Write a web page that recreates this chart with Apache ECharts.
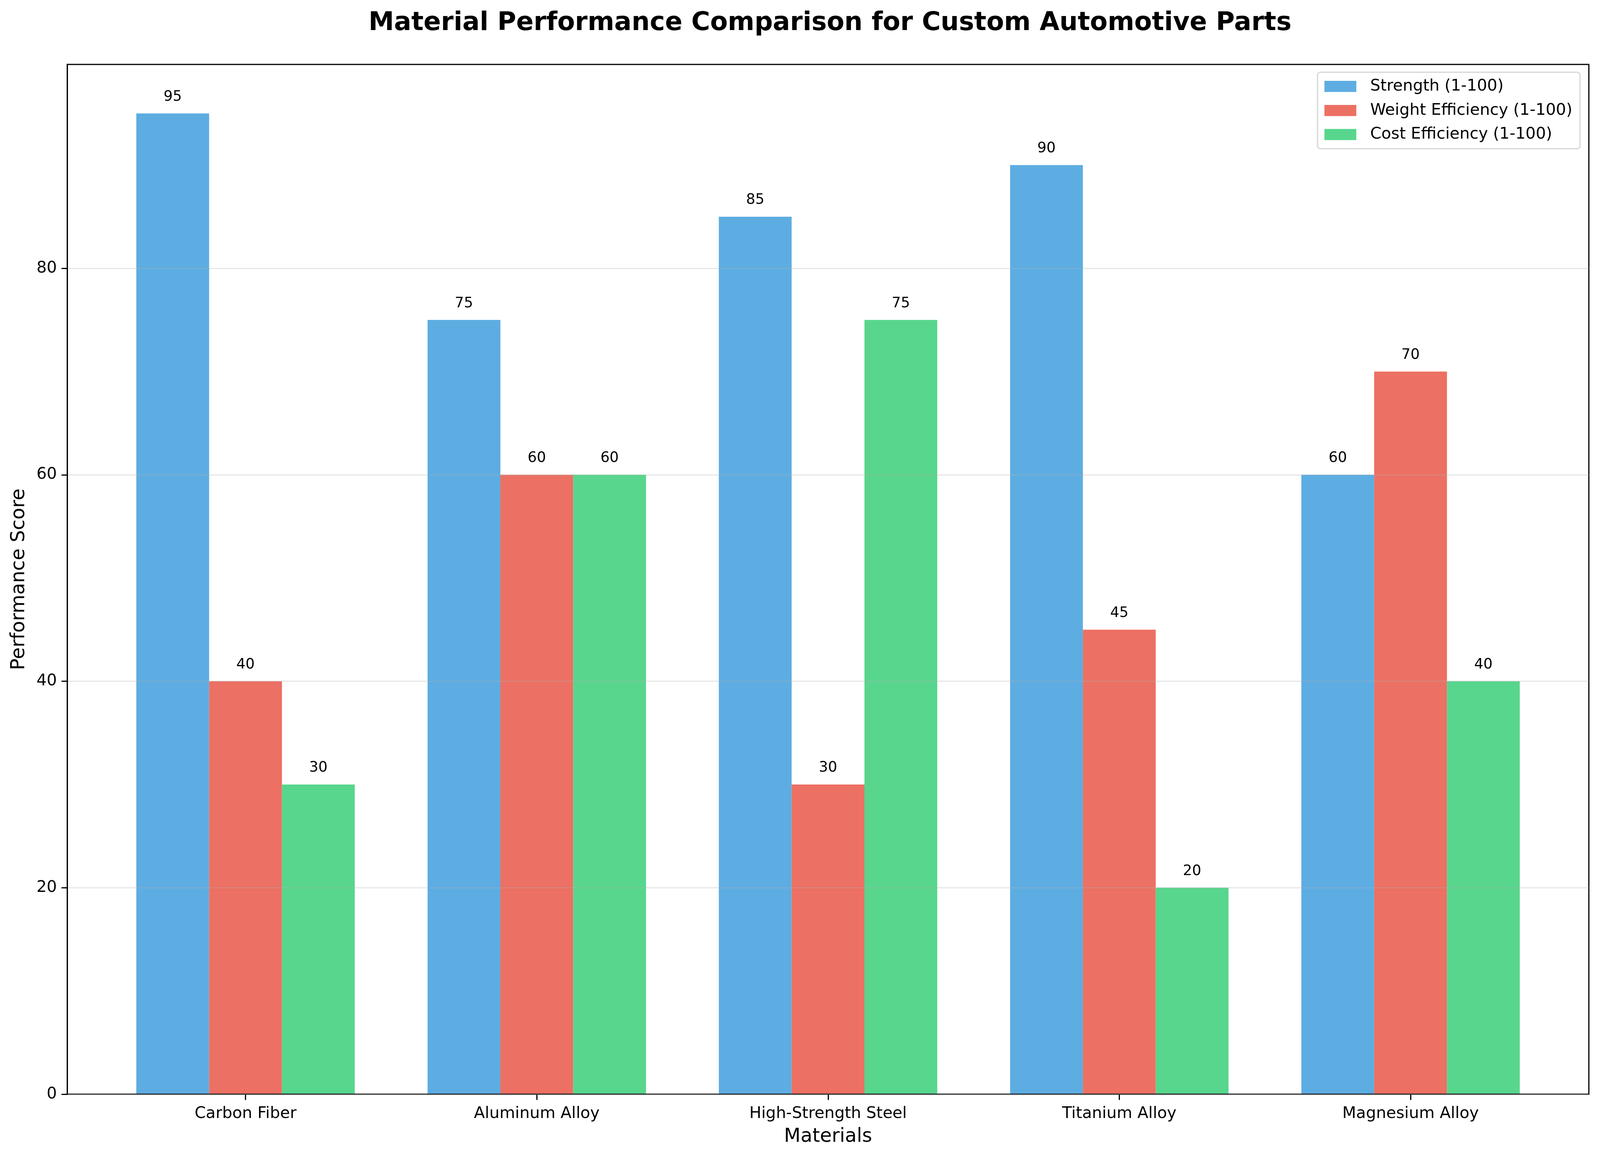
<!DOCTYPE html>
<html>
<head>
<meta charset="utf-8">
<script src="https://cdn.jsdelivr.net/npm/echarts@6/dist/echarts.min.js"></script>
<style>
  html, body { margin: 0; padding: 0; background: #fff; overflow: hidden; }
  #chart { width: 100vw; height: 100vh; }
</style>
</head>
<body>
<div id="chart"></div>
<script>
// data
const materials = ["Carbon Fiber", "Aluminum Alloy", "High-Strength Steel", "Titanium Alloy", "Magnesium Alloy"];
const strength = [95, 75, 85, 90, 60];
const weightEff = [40, 60, 30, 45, 70];
const costEff = [30, 60, 75, 20, 40];
const seriesNames = ["Strength (1-100)", "Weight Efficiency (1-100)", "Cost Efficiency (1-100)"];
const yTicks = [0, 20, 40, 60, 80];

const FONT = "DejaVu Sans";
const yMax = 99.75;

var dom = document.getElementById("chart");
var myChart = echarts.init(dom);

function build() {
  // layout is measured on a 4164px wide figure, scale to whatever we got
  var s = dom.clientWidth / 4164;
  var sy = dom.clientHeight / 2968;
  function px(v) { return v * s; }

  function barSeries(name, data, color) {
    return {
      name: name,
      type: "bar",
      xAxisIndex: 1,
      yAxisIndex: 1,
      data: data,
      barWidth: "25%",
      barGap: "0%",
      itemStyle: { color: color },
      label: {
        show: true,
        position: "top",
        distance: px(24),
        color: "#000",
        fontSize: px(37.5),
        fontFamily: FONT,
      },
    };
  }

  return {
    backgroundColor: "#fff",
    animation: false,
    textStyle: { fontFamily: FONT, color: "#000" },
    title: {
      text: "Material Performance Comparison for Custom Automotive Parts",
      // centred over the plot frame, not the page
      left: px(2155),
      textAlign: "center",
      top: 22 * sy,
      textStyle: { fontFamily: FONT, fontSize: px(66.7), fontWeight: "bold", color: "#000" },
    },
    legend: {
      orient: "vertical",
      right: px(52),
      top: 185 * sy,
      padding: [px(16), px(20), px(16), px(18)],
      itemGap: px(21),
      itemWidth: px(83),
      itemHeight: px(29),
      icon: "rect",
      backgroundColor: "#fff",
      borderColor: "#d5d5d5",
      borderWidth: px(3),
      borderRadius: px(8),
      textStyle: { fontFamily: FONT, fontSize: px(41.7), color: "#000", padding: [0, 0, 0, px(31)] },
      data: seriesNames,
    },
    grid: [
      // outer frame, same box as the matplotlib axes
      { left: px(175), right: px(29), top: 165 * sy, bottom: 166 * sy, show: true, borderColor: "#000", borderWidth: px(3), z: 10 },
      // inner grid where the categories sit
      { left: px(260), right: px(114), top: 165 * sy, bottom: 166 * sy },
    ],
    xAxis: [
      { type: "value", gridIndex: 0, min: 0, max: 1, show: false },
      {
        type: "category",
        gridIndex: 1,
        data: materials,
        name: "Materials",
        nameLocation: "middle",
        nameGap: px(86),
        nameTextStyle: { fontFamily: FONT, fontSize: px(50), color: "#000" },
        axisLine: { show: false },
        axisTick: { show: true, alignWithLabel: true, length: px(15), lineStyle: { color: "#000", width: px(3) } },
        axisLabel: { fontFamily: FONT, fontSize: px(41.7), color: "#000", margin: px(30) },
      },
    ],
    yAxis: [
      {
        type: "value",
        gridIndex: 0,
        min: 0,
        max: yMax,
        z: 10,
        name: "Performance Score",
        nameLocation: "middle",
        nameGap: px(100),
        nameTextStyle: { fontFamily: FONT, fontSize: px(50), color: "#000" },
        axisLine: { show: true, lineStyle: { color: "#000", width: px(3) } },
        axisTick: { show: true, length: px(15), customValues: yTicks, lineStyle: { color: "#000", width: px(3) } },
        axisLabel: { fontFamily: FONT, fontSize: px(41.7), color: "#000", margin: px(27), customValues: yTicks },
        splitLine: { show: true, lineStyle: { color: "rgba(176,176,176,0.3)", width: px(3) } },
      },
      { type: "value", gridIndex: 1, min: 0, max: yMax, show: false },
    ],
    series: [
      barSeries(seriesNames[0], strength, "#5DADE2"),
      barSeries(seriesNames[1], weightEff, "#EC7063"),
      barSeries(seriesNames[2], costEff, "#58D68D"),
    ],
  };
}

myChart.setOption(build());
window.addEventListener("resize", function () {
  myChart.resize();
  myChart.setOption(build());
});
</script>
</body>
</html>
